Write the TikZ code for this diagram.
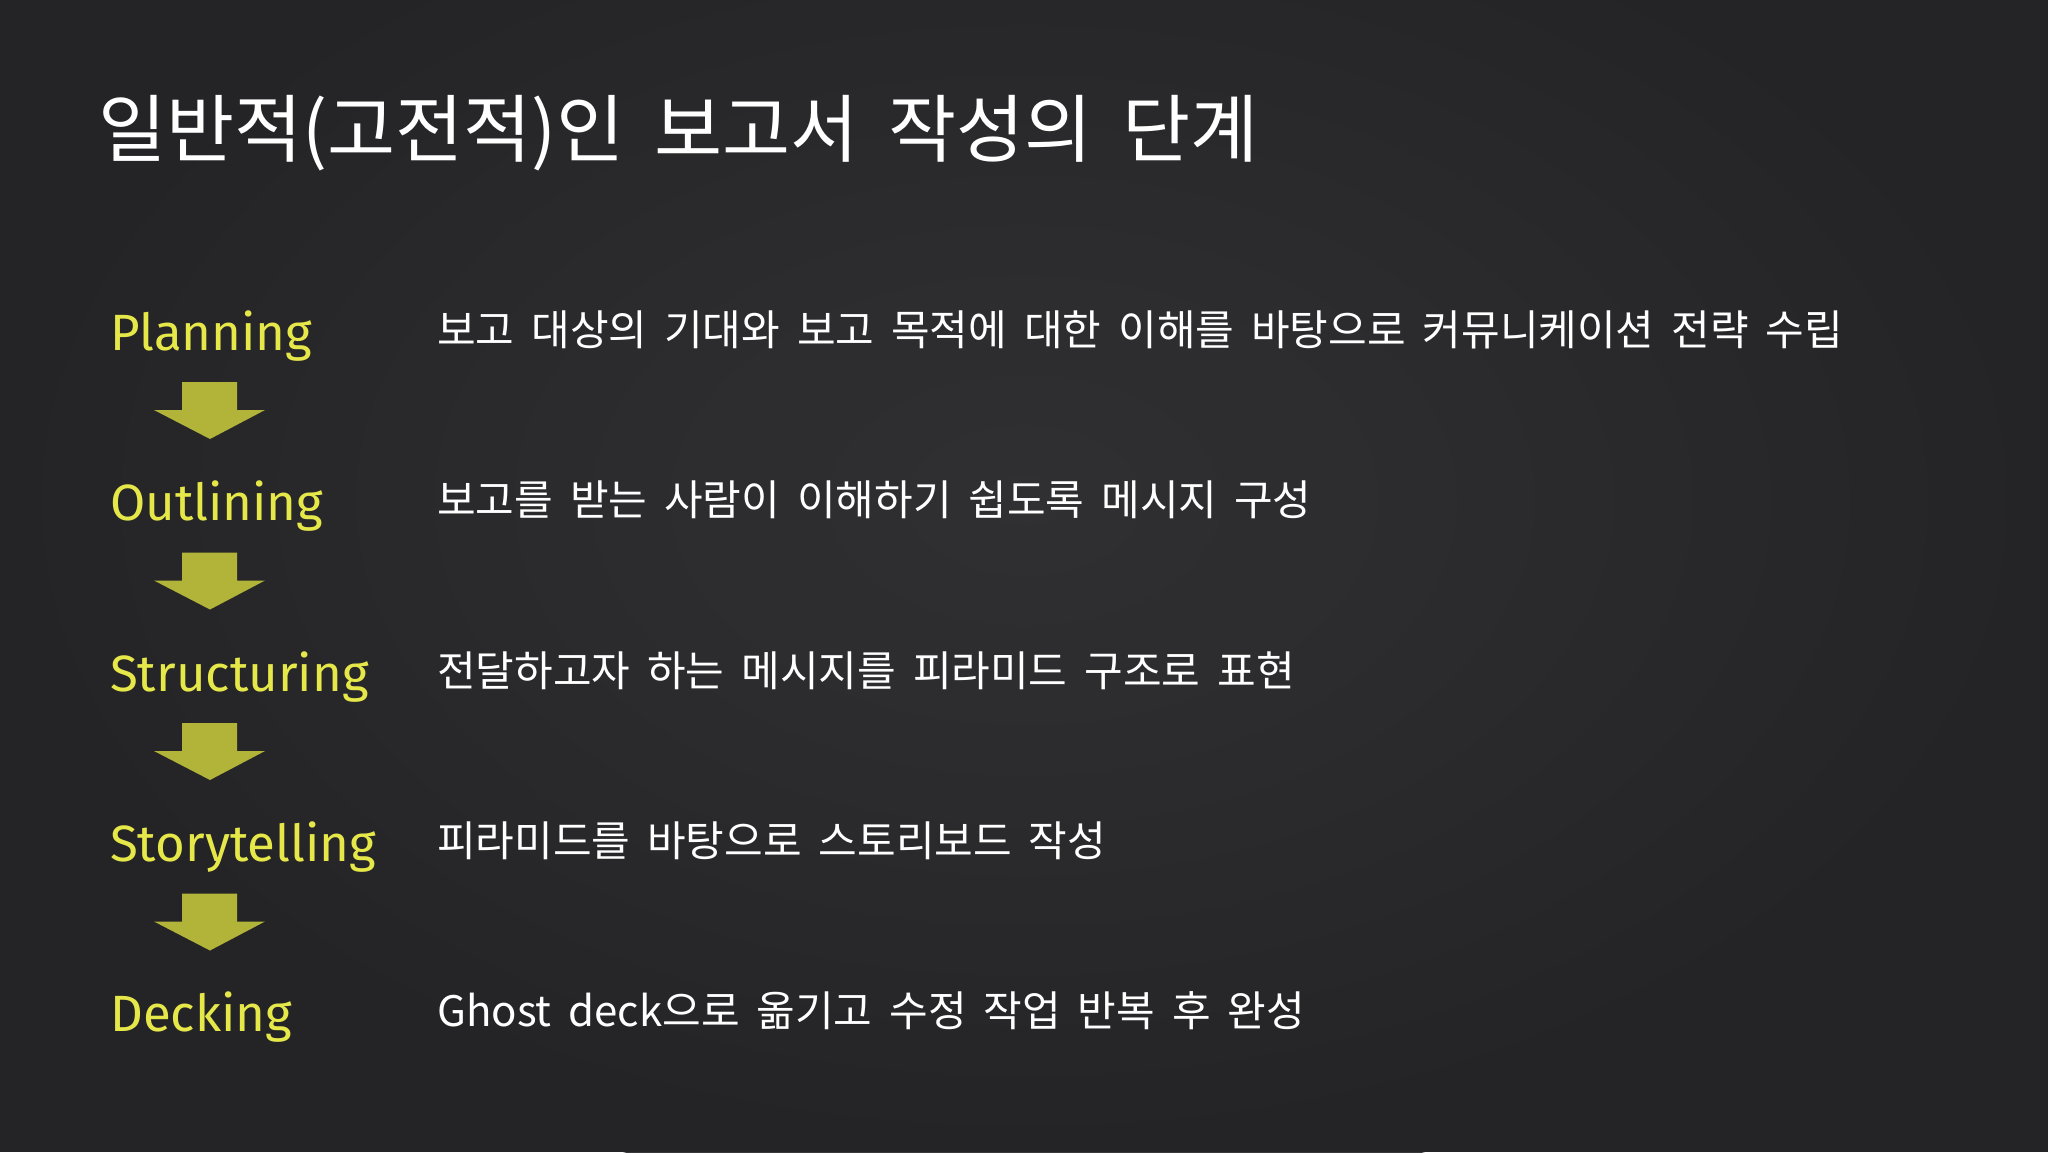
\documentclass[tikz,border=0pt]{standalone}
\usepackage{fontspec}
\setmainfont{Fira Sans}
\newfontfamily\kofont[WordSpace=1.8]{Noto Sans CJK KR}
\newfontfamily\labfont{Fira Sans}
\definecolor{board}{HTML}{242426}
\definecolor{boardlight}{HTML}{323234}
\definecolor{chalkyellow}{HTML}{E6E84A}
\definecolor{arrowolive}{HTML}{B2B43A}
\tikzset{
  titletext/.style={anchor=base west, inner sep=0pt, text=white, font=\kofont\fontsize{74}{84}\selectfont},
  desctext/.style={anchor=base west, inner sep=0pt, text=white, font=\kofont\fontsize{42}{50}\selectfont},
  steplabel/.style={anchor=base west, inner sep=0pt, text=chalkyellow, font=\labfont\fontsize{51}{60}\selectfont},
  blockarrow/.style={fill=arrowolive, draw=none}
}
\begin{document}
\begin{tikzpicture}[x=1pt,y=-1pt]
\useasboundingbox (0,0) rectangle (2048,1152);
\fill[board] (0,0) rectangle (2048,1152);
\shade[inner color=boardlight, outer color=board, opacity=0.9] (1024,500) ellipse [x radius=1100, y radius=700];
\node[titletext] (title) at (98,156) {일반적(고전적)인 보고서 작성의 단계};
\node[steplabel] (l1) at (110,350) {Planning};
\node[steplabel] (l2) at (110,520) {Outlining};
\node[steplabel] (l3) at (110,691) {Structuring};
\node[steplabel] (l4) at (110,861) {Storytelling};
\node[steplabel] (l5) at (110,1031) {Decking};
\node[desctext] (d1) at (437,345) {보고 대상의 기대와 보고 목적에 대한 이해를 바탕으로 커뮤니케이션 전략 수립};
\node[desctext] (d2) at (437,515) {보고를 받는 사람이 이해하기 쉽도록 메시지 구성};
\node[desctext] (d3) at (437,686) {전달하고자 하는 메시지를 피라미드 구조로 표현};
\node[desctext] (d4) at (437,856) {피라미드를 바탕으로 스토리보드 작성};
\node[desctext] (d5) at (437,1026) {Ghost deck으로 옮기고 수정 작업 반복 후 완성};
\foreach \i in {0,1,2,3}{
  \fill[blockarrow] (182,382+170.5*\i) -- (237,382+170.5*\i) -- (237,410+170.5*\i) -- (265,410+170.5*\i)
    -- (210,439+170.5*\i) -- (154,410+170.5*\i) -- (182,410+170.5*\i) -- cycle;
}
\end{tikzpicture}
\end{document}
